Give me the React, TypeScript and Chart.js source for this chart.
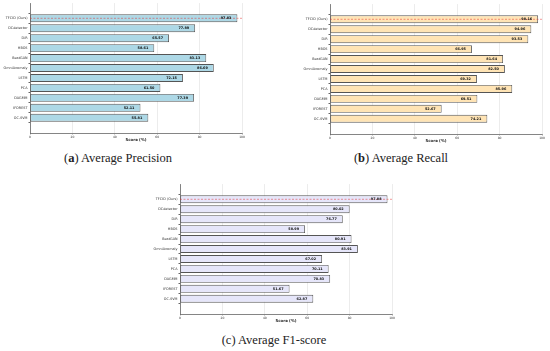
import React, { useEffect, useRef } from 'react';
import { Chart, registerables } from 'chart.js';
Chart.register(...registerables);

const methods = ['TFCID (Ours)', 'DCdetector', 'DiR', 'HBOS', 'BeatGAN', 'OmniAnomaly', 'LSTM', 'PCA', 'DAGMM', 'IFOREST', 'OC-SVM'];
const precision = [97.83, 77.89, 65.57, 58.61, 83.13, 86.69, 72.15, 61.5, 77.39, 52.11, 55.81];
const recall = [98.16, 94.96, 93.53, 66.95, 81.64, 82.5, 69.32, 85.96, 69.51, 52.67, 74.21];
const f1 = [97.88, 80.02, 76.77, 58.99, 80.91, 83.91, 67.02, 70.11, 70.83, 51.67, 62.87];
const xTickValues = [0, 20, 40, 60, 80, 100];
const xTitle = 'Score (%)';

type PanelProps = { values: number[]; color: string; left: number; top: number };

function BarPanel({ values, color, left, top }: PanelProps) {
  const ref = useRef<HTMLCanvasElement>(null);
  useEffect(() => {
    if (!ref.current) return;
    const overlay = {
      id: 'overlay',
      afterDatasetsDraw(chart: any) {
        const ctx = chart.ctx;
        const xs = chart.scales.x;
        const ys = chart.scales.y;
        const meta = chart.getDatasetMeta(0);
        ctx.save();
        ctx.strokeStyle = 'rgba(225,40,40,0.6)';
        ctx.lineWidth = 0.8;
        ctx.setLineDash([2, 1.5]);
        const y0 = ys.getPixelForValue(0);
        ctx.beginPath();
        ctx.moveTo(xs.getPixelForValue(0), y0);
        ctx.lineTo(xs.getPixelForValue(100) + 1, y0);
        ctx.stroke();
        ctx.setLineDash([]);
        ctx.fillStyle = '#111';
        ctx.font = 'bold 3.4px "DejaVu Sans"';
        ctx.textAlign = 'right';
        ctx.textBaseline = 'middle';
        meta.data.forEach((el: any, i: number) => {
          ctx.fillText(values[i].toFixed(2), el.x - 6, el.y);
        });
        ctx.restore();
      },
    };
    const chart = new Chart(ref.current, {
      type: 'bar',
      data: {
        datasets: [
          {
            data: values.map((v, i) => ({ x: v, y: i })),
            backgroundColor: color,
            borderColor: '#555',
            borderWidth: 0.9,
            borderSkipped: false,
            categoryPercentage: 1,
            barPercentage: 0.8,
          } as any,
        ],
      },
      options: {
        indexAxis: 'y',
        responsive: false,
        animation: false,
        events: [],
        layout: { padding: { left: 0, right: 8, top: 3, bottom: 0 } },
        plugins: { legend: { display: false }, tooltip: { enabled: false } },
        scales: {
          x: {
            type: 'linear',
            min: 0,
            max: 100,
            afterFit: (s: any) => { s.height = 12; },
            afterBuildTicks: (s: any) => { s.ticks = xTickValues.map((v) => ({ value: v })); },
            ticks: { font: { size: 3, family: 'DejaVu Sans' }, color: '#333', padding: 0.5, maxRotation: 0 },
            grid: { color: 'rgba(0,0,0,0.13)', tickColor: '#666', tickLength: 1.5, lineWidth: 0.6 },
            border: { display: true, color: '#666', width: 0.8 },
            title: { display: true, text: xTitle, font: { size: 3.9, weight: 'bold', family: 'DejaVu Sans' }, color: '#222', padding: { top: 0, bottom: 2.2 } },
          },
          y: {
            type: 'linear',
            min: -0.94,
            max: 10.94,
            reverse: true,
            afterFit: (s: any) => { s.width = 30; },
            afterBuildTicks: (s: any) => { s.ticks = methods.map((_, i) => ({ value: i })); },
            ticks: { callback: (v: any) => methods[v], font: { size: 3.4, family: 'DejaVu Sans' }, color: '#333', padding: 1 },
            grid: { drawOnChartArea: false, tickColor: '#666', tickLength: 1.5 },
            border: { display: true, color: '#666', width: 0.8 },
          },
        },
      } as any,
      plugins: [overlay],
    });
    return () => chart.destroy();
  }, [values, color]);
  return (
    <canvas ref={ref} width={250} height={145} style={{ position: 'absolute', left, top, width: 250, height: 145 }} />
  );
}

const captionStyle: React.CSSProperties = {
  position: 'absolute',
  fontFamily: '"Liberation Serif", serif',
  fontSize: 12.5,
  color: '#222',
  whiteSpace: 'nowrap',
  transform: 'translate(-50%, -50%)',
  lineHeight: 1,
};

export default function App() {
  return (
    <div style={{ position: 'absolute', left: 0, top: 0, width: 550, height: 351, background: '#fff', overflow: 'hidden' }}>
      <BarPanel values={precision} color="#ADD8E6" left={0} top={0} />
      <BarPanel values={recall} color="#FFE4B5" left={300} top={1} />
      <BarPanel values={f1} color="#E6E6FA" left={150} top={181} />
      <div style={{ ...captionStyle, left: 118, top: 158 }}>(<b>a</b>) Average Precision</div>
      <div style={{ ...captionStyle, left: 401, top: 158 }}>(<b>b</b>) Average Recall</div>
      <div style={{ ...captionStyle, left: 274, top: 340 }}>(c) Average F1-score</div>
    </div>
  );
}
